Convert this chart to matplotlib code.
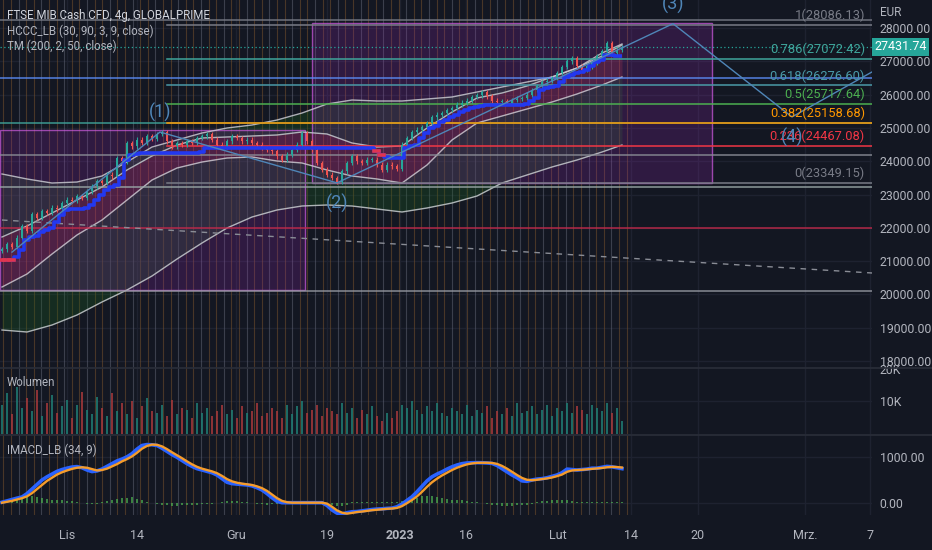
import numpy as np
import matplotlib
matplotlib.use("Agg")
import matplotlib.pyplot as plt
from matplotlib.patches import Rectangle
from matplotlib.transforms import blended_transform_factory

plt.rcParams['font.family'] = ['Roboto', 'DejaVu Sans']

# ── Data (one bar per ~5 px) ─────────────────────────────────────
closes = [21350, 21500, 21420, 21700, 22050, 21900, 22400, 22300, 22500, 22450,
          22600, 22550, 22750, 22850, 22800, 22950, 22900, 23100, 23250, 23400,
          23350, 23600, 23550, 24100, 24000, 24550, 24450, 24650, 24550, 24750,
          24680, 24820, 24870, 24600, 24450, 24550, 24500, 24600, 24550, 24700,
          24750, 24820, 24650, 24500, 24450, 24600, 24750, 24700, 24600, 24650,
          24550, 24500, 24400, 24350, 24300, 24150, 24050, 24200, 24350, 24500,
          24850, 24600, 24350, 23950, 23750, 23600, 23500, 23380, 23700, 23950,
          24150, 24000, 23950, 24050, 24050, 23900, 23750, 23900, 23850, 23780,
          24500, 24700, 24880, 24950, 25030, 25150, 25320, 25400, 25450, 25540,
          25600, 25700, 25760, 25820, 25930, 25980, 26080, 25950, 25820, 25780,
          25800, 25750, 25840, 25880, 25900, 26000, 26140, 26250, 26380, 26420,
          26500, 26650, 26830, 27000, 27100, 26850, 26740, 26850, 26950, 27150,
          27300, 27550, 27250, 27350, 27431.74]
first_open = 21300

hccc = [21030, 21030, 21030, 21120, 21330, 21630, 21720, 21750, 21870, 21930,
        21990, 22170, 22380, 22530, 22560, 22560, 22560, 22600, 22690, 22830,
        22990, 23130, 23220, 23290, 23500, 24040, 24190, 24220, 24250, 24250,
        24250, 24250, 24250, 24250, 24250, 24250, 24250, 24250, 24250, 24250,
        24280, 24400, 24400, 24400, 24400, 24400, 24400, 24400, 24400, 24400,
        24400, 24400, 24400, 24400, 24400, 24400, 24400, 24400, 24400, 24400,
        24400, 24400, 24400, 24400, 24400, 24400, 24400, 24400, 24400, 24400,
        24400, 24400, 24400, 24400, 24400, 24310, 24190, 24130, 24100, 24100,
        24100, 24400, 24460, 24490, 24700, 24850, 25000, 25060, 25180, 25240,
        25330, 25390, 25480, 25540, 25600, 25630, 25660, 25690, 25690, 25690,
        25690, 25690, 25690, 25690, 25690, 25720, 25810, 25900, 26140, 26200,
        26230, 26260, 26380, 26530, 26590, 26650, 26680, 26740, 26860, 26980,
        27040, 27190, 27190, 27160, 27160]
hccc_red = [0, 1, 2, 75, 76]

band_x = [0, 5, 10, 15, 20, 25, 30, 35, 40, 45, 50, 55, 60, 65, 70, 75, 80,
          85, 90, 95, 100, 105, 110, 115, 120, 124]
tm_upper = [23616, 23466, 23345, 23375, 23556, 23976, 24426, 24637, 24847, 24997,
            25087, 25237, 25447, 25718, 25838, 25808, 25808, 25868, 25928, 26078,
            26228, 26378, 26529, 26799, 27249, 27520]
ch_upper = [21724, 22054, 22444, 22835, 23225, 23736, 24156, 24486, 24697, 24727,
            24757, 24787, 24877, 24817, 24547, 24426, 24456, 24997, 25477, 25898,
            26048, 26258, 26529, 26799, 27159, 27490]
ch_lower = [20222, 20613, 21213, 21784, 22234, 22835, 23435, 23796, 23976, 24096,
            24126, 24006, 23946, 23736, 23556, 23466, 23345, 23886, 24637, 25147,
            25357, 25568, 25778, 26018, 26288, 26529]
tm_lower = [18931, 18871, 19081, 19381, 19772, 20133, 20553, 21063, 21544, 21994,
            22324, 22535, 22655, 22685, 22655, 22565, 22475, 22595, 22745, 22955,
            23345, 23586, 23826, 24036, 24276, 24486]

volume = [9000, 12500, 6000, 14500, 8000, 11000, 7000, 13500, 5500, 9500,
          12000, 6500, 8500, 10500, 5000, 9000, 13000, 7500, 6000, 11500,
          8000, 5500, 12500, 7000, 9500, 6000, 10000, 5000, 8500, 11000,
          7000, 6500, 9000, 5500, 10500, 6000, 8000, 7500, 5000, 9500,
          6500, 8000, 5500, 7000, 9000, 6000, 7500, 5000, 8500, 6500,
          7000, 9500, 5500, 6500, 8000, 7000, 5000, 9000, 6000, 8500,
          10000, 6500, 7500, 9000, 5500, 8000, 7000, 6000, 9500, 6500,
          8000, 5000, 7500, 6000, 8500, 5500, 4000, 6500, 5000, 7000,
          9000, 8000, 10000, 7500, 6000, 8500, 7000, 9500, 6500, 5500,
          8000, 7000, 6000, 9000, 5500, 7500, 6500, 8500, 5000, 7000,
          6000, 8000, 5500, 9500, 6500, 7000, 8500, 6000, 7500, 9000,
          5500, 8000, 7000, 9500, 6500, 8500, 7500, 6000, 9000, 8000,
          7000, 9500, 6500, 8000, 4000]

imacd = [10, 40, 70, 100, 125, 200, 300, 400, 500, 570,
         630, 690, 730, 760, 785, 795, 770, 720, 685, 700,
         740, 800, 860, 920, 960, 1010, 1080, 1180, 1260, 1280,
         1275, 1260, 1200, 1130, 1060, 1000, 930, 860, 800, 750,
         720, 690, 660, 610, 530, 450, 420, 410, 400, 390,
         370, 330, 280, 200, 110, 30, 0, 0, 0, 0,
         0, 0, 0, 0, 0, -60, -160, -230, -250, -220,
         -200, -195, -180, -165, -150, -140, -135, -125, -120, -90,
         -30, 50, 130, 240, 360, 480, 570, 630, 680, 740,
         790, 830, 860, 875, 880, 882, 880, 875, 865, 820,
         750, 680, 610, 550, 480, 470, 500, 520, 530, 550,
         580, 610, 660, 740, 730, 720, 730, 740, 760, 760,
         780, 800, 790, 770, 750]
signal = [0, 20, 40, 70, 100, 140, 210, 300, 390, 480,
          550, 620, 670, 710, 745, 770, 780, 770, 740, 710,
          720, 750, 800, 850, 910, 960, 1020, 1100, 1190, 1250,
          1280, 1275, 1240, 1180, 1110, 1045, 980, 910, 845, 790,
          750, 720, 690, 650, 590, 520, 470, 440, 420, 405,
          390, 360, 320, 260, 180, 100, 40, 10, 0, 0,
          0, 0, 0, 0, 0, -20, -90, -170, -220, -240,
          -225, -205, -195, -180, -165, -155, -145, -135, -128, -115,
          -75, -10, 60, 140, 240, 350, 450, 530, 600, 660,
          720, 770, 810, 845, 865, 878, 880, 880, 875, 855,
          810, 750, 680, 610, 545, 505, 495, 505, 520, 535,
          555, 585, 620, 680, 710, 720, 725, 735, 745, 755,
          765, 780, 790, 785, 775]
hist = [30, 60, 90, 110, 130, 150, 140, 120, 100, 90,
        70, 60, 50, 40, 30, 20, 0, -20, -30, -20,
        10, 40, 60, 80, 100, 110, 120, 90, 60, 20,
        -10, -30, -50, -60, -70, -65, -60, -55, -45, -40,
        -35, -30, -20, -10, 10, 30, 35, 30, 20, 10,
        -10, -20, -30, -40, -30, -20, -10, 0, 0, 0,
        0, 0, 0, 0, 0, -30, -60, -80, -70, -40,
        10, 20, 15, 10, 10, 5, 5, 10, 10, 20,
        40, 60, 80, 110, 140, 150, 140, 120, 100, 80,
        70, 60, 50, 30, 20, 5, -10, -30, -50, -60,
        -70, -70, -65, -60, -50, -40, -20, 10, 30, 40,
        50, 60, 70, 60, 40, 20, 10, 15, 20, 25,
        20, 15, 20, 15, 10]

fib_ratio = ['1', '0.786', '0.618', '0.5', '0.382', '0.236', '0']
fib_price = [28086.13, 27072.42, 26276.60, 25717.64, 25158.68, 24467.08, 23349.15]
fib_color = ['#787b86', '#3fa59b', '#4a9aa8', '#4caf50', '#ff9800', '#f23645', '#787b86']
fib_start = 33

level_price = [28240, 26510, 25158.68, 24190, 23225, 22000, 20100]
level_color = ['#787b86', '#5b8cf6', '#3fa59b', '#8a8d96', '#9aa8a8', '#c2284a', '#9598a1']
trend_x = [0, 174]
trend_y = [22234, 20643]

wave_x = [2, 31.6, 67, 134.2, 158, 174]
wave_y = [21270, 24877, 23349.15, 28130, 25330, 26680]
wave_lbl = ['(1)', '(2)', '(3)', '(4)']

box1 = (-0.4, 60.6, 20133, 24937)
box2 = (62, 142, 23345, 28150)

tick_pos = [13, 27, 46.8, 65, 79.6, 92.8, 111.2, 125.8, 139.2, 160.6, 173.6]
tick_lbl = ['Lis', '14', 'Gru', '19', '2023', '16', 'Lut', '14', '20', 'Mrz.', '7']

# ── Figure layout ────────────────────────────────────────────────
BG = '#131722'
TXT = '#b2b5be'
GRID = '#1e2230'
fig = plt.figure(figsize=(9.32, 5.5), dpi=100, facecolor=BG)
pw = 872 / 932
ax = fig.add_axes([0, 1 - 368 / 550, pw, 368 / 550])
axv = fig.add_axes([0, 1 - 434 / 550, pw, 66 / 550])
axm = fig.add_axes([0, 1 - 515 / 550, pw, 80 / 550])

n = len(closes)
x = np.arange(n)
opens = [first_open] + closes[:-1]
XL = (-0.4, 174)

for a in (ax, axv, axm):
    a.set_facecolor(BG)
    a.set_xlim(*XL)
    for s in a.spines.values():
        s.set_visible(False)
    a.yaxis.tick_right()
    a.tick_params(axis='y', length=0, colors=TXT, labelsize=8.8, pad=5.5)
    a.tick_params(axis='x', length=0)
    for tp in tick_pos:
        a.axvline(tp, color=GRID, lw=1, zorder=0)
    # daily session stripes
    for k, xv in enumerate(np.arange(0.3, n, 1.52)):
        col = '#5d6170' if k % 3 == 2 else '#74502c'
        a.axvline(xv, color=col, lw=0.8, alpha=0.55, zorder=0.5)

# ── Main pane ────────────────────────────────────────────────────
ax.set_ylim(17790, 28841)
ax.set_yticks(np.arange(18000, 28001, 1000))
ax.set_yticklabels([f'{v:.2f}' for v in np.arange(18000, 28001, 1000)])
ax.set_xticks([])
for v in np.arange(18000, 28001, 1000):
    ax.axhline(v, color=GRID, lw=1, zorder=0)

ax.fill_between(band_x, tm_upper, ch_upper, color='#1b5e20', alpha=0.3, lw=0, zorder=1)
ax.fill_between(band_x, ch_upper, ch_lower, color='#e0403c', alpha=0.2, lw=0, zorder=1)
ax.fill_between(band_x, ch_lower, tm_lower, color='#1b5e20', alpha=0.3, lw=0, zorder=1)
for band in (tm_upper, ch_upper, ch_lower, tm_lower):
    ax.plot(band_x, band, color='#c8cad0', lw=1, alpha=0.85, zorder=3)

for (x0, x1, y0, y1) in (box1, box2):
    ax.add_patch(Rectangle((x0, y0), x1 - x0, y1 - y0, fc=(0.58, 0.16, 0.69, 0.22),
                           ec=(0.82, 0.36, 0.89, 0.7), lw=1, zorder=2))

for p, c in zip(level_price, level_color):
    ax.axhline(p, color=c, lw=1.1, alpha=0.9, zorder=3)
ax.plot(trend_x, trend_y, color='#8a8d96', lw=1, ls=(0, (4, 4)), zorder=3)
ax.axhline(closes[-1], color='#26a69a', lw=0.9, ls=(0, (1, 2)), zorder=3)

for r, p, c in zip(fib_ratio, fib_price, fib_color):
    ax.plot([fib_start, XL[1]], [p, p], color=c, lw=1.1, zorder=3)
    ax.annotate(f'{r}({p:.2f})', xy=(172.6, p), xytext=(0, 2), textcoords='offset points',
                ha='right', va='bottom', color=c, fontsize=9.3, zorder=7)

# candles
up_col, dn_col = '#26a69a', '#ef5350'
colors = [up_col if c >= o else dn_col for o, c in zip(opens, closes)]
hi = [max(o, c) + 70 for o, c in zip(opens, closes)]
lo = [min(o, c) - 70 for o, c in zip(opens, closes)]
ax.vlines(x, lo, hi, colors=colors, lw=0.8, zorder=4)
ax.bar(x, [max(abs(c - o), 25) for o, c in zip(opens, closes)],
       bottom=[min(o, c) for o, c in zip(opens, closes)], width=0.5,
       color=colors, zorder=4)

# HCCC stepped line
ax.plot(x, hccc, color='#2338f0', lw=2.6, drawstyle='steps-mid', zorder=5,
        solid_capstyle='butt')
for i in hccc_red:
    ax.plot([i - 0.5, i + 0.5], [hccc[i], hccc[i]], color='#e0354f', lw=2.6, zorder=5)

# Elliott waves
wc = '#4f86b8'
ax.plot(wave_x, wave_y, color=wc, lw=1, zorder=6)
for k, lbl in enumerate(wave_lbl):
    dy = 14 if k % 2 == 0 else -15
    ax.annotate(lbl, xy=(wave_x[k + 1], wave_y[k + 1]), xytext=(0, dy),
                textcoords='offset points', ha='center', va='center',
                color=wc, fontsize=13, zorder=7)

# last price tag
tr = blended_transform_factory(ax.transAxes, ax.transData)
ax.text(1.003, closes[-1], f'{closes[-1]:.2f}', transform=tr, ha='left', va='center',
        color='white', fontsize=9, zorder=8,
        bbox=dict(boxstyle='square,pad=0.2', fc='#26a69a', ec='none'))

# ── Volume pane ──────────────────────────────────────────────────
axv.set_ylim(0, 20300)
axv.set_yticks([10000, 20000])
axv.set_yticklabels(['10K', '20K'])
axv.set_xticks([])
axv.axhline(10000, color=GRID, lw=1, zorder=0)
vcols = ['#1f7a72' if c == up_col else '#a1383a' for c in colors]
axv.bar(x, volume, width=0.5, color=vcols, alpha=0.85, zorder=2)

# ── IMACD pane ───────────────────────────────────────────────────
axm.set_ylim(-271, 1491)
axm.set_yticks([0, 1000])
axm.set_yticklabels(['0.00', '1000.00'])
for v in (0, 1000):
    axm.axhline(v, color=GRID, lw=1, zorder=0)
axm.bar(x, hist, width=0.5, color='#4caf50', alpha=0.7, zorder=2)
axm.plot(x, imacd, color='#2962ff', lw=2.6, zorder=3)
axm.plot(x, signal, color='#f59c2b', lw=1.7, zorder=4)
axm.set_xticks(tick_pos)
axm.set_xticklabels(tick_lbl)
axm.tick_params(axis='x', colors=TXT, labelsize=9, pad=10)
for t in axm.get_xticklabels():
    if t.get_text() == '2023':
        t.set_fontweight('bold')

# ── Texts, separators ────────────────────────────────────────────
def px(xp, yp):
    return xp / 932, 1 - yp / 550

fig.text(*px(7, 15), 'FTSE MIB Cash CFD, 4g, GLOBALPRIME', color='#d1d4dc',
         fontsize=8.3, va='center', ha='left')
fig.text(*px(7, 31), 'HCCC_LB (30, 90, 3, 9, close)', color=TXT, fontsize=8.3, va='center')
fig.text(*px(7, 46), 'TM (200, 2, 50, close)', color=TXT, fontsize=8.3, va='center')
fig.text(*px(7, 383), 'Wolumen', color=TXT, fontsize=8.3, va='center')
fig.text(*px(7, 450), 'IMACD_LB (34, 9)', color=TXT, fontsize=8.3, va='center')
fig.text(*px(880, 12), 'EUR', color=TXT, fontsize=8.5, va='center')

for yp in (368, 434.5):
    fig.add_artist(plt.Line2D([0, 1], [1 - yp / 550] * 2, color='#2a2e39', lw=1.2))

fig.savefig('out.png', dpi=100, facecolor=BG)
